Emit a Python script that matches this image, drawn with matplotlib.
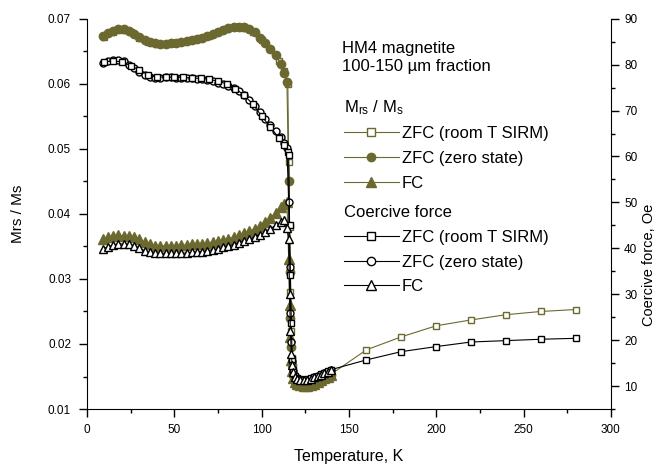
import matplotlib
matplotlib.use("Agg")
import matplotlib.pyplot as plt
from matplotlib.ticker import MultipleLocator, FormatStrFormatter
from matplotlib.lines import Line2D

plt.rcParams['font.family'] = ['Liberation Sans', 'DejaVu Sans']

# temperature grids (K)
t_low = [9, 12, 15, 18, 21, 24, 27, 30, 33, 36, 39, 42, 45, 48, 51, 54, 57, 60, 63, 66,
         69, 72, 75, 78, 81, 84, 87, 90, 93, 96, 99, 102, 105, 108, 111, 113, 114.5,
         115.5, 116, 116.5, 117, 117.5, 118, 119, 120, 122, 124, 126, 128, 130, 132, 134,
         136, 138, 140]
t_sirm = [10, 15, 20, 25, 30, 35, 40, 45, 50, 55, 60, 65, 70, 75, 80, 85, 90, 95, 100, 105,
          110, 113, 115,
          115.5, 116, 116.5, 117, 117.5, 118, 119, 120, 122, 124, 126, 128, 130, 132, 134,
          136, 138, 140,
          160, 180, 200, 220, 240, 260, 280]

# Mrs/Ms (left axis)
mrs_sirm = [0.0672, 0.0679, 0.0683, 0.0679, 0.0671, 0.0664, 0.0661, 0.0661, 0.0662, 0.0664,
            0.0667, 0.0670, 0.0674, 0.0679, 0.0684, 0.0687, 0.0686, 0.0679, 0.0667, 0.0653,
            0.0635, 0.0619, 0.0600,
            0.0480, 0.0380, 0.0280, 0.0220, 0.0178, 0.0158, 0.0146, 0.0141, 0.0138, 0.0137,
            0.0137, 0.0138, 0.0140, 0.0142, 0.0145, 0.0148, 0.0151, 0.0154,
            0.0191, 0.0211, 0.0228, 0.0237, 0.0245, 0.0250, 0.0253]
mrs_zero = [0.0674, 0.0678, 0.0681, 0.0684, 0.0684, 0.0681, 0.0677, 0.0672, 0.0667, 0.0664,
            0.0662, 0.0661, 0.0661, 0.0662, 0.0663, 0.0664, 0.0666, 0.0667, 0.0669, 0.0671,
            0.0674, 0.0677, 0.0680, 0.0683, 0.0686, 0.0687, 0.0688, 0.0687, 0.0684, 0.0679,
            0.0671, 0.0663, 0.0654, 0.0644, 0.0630, 0.0617, 0.0602,
            0.0450, 0.0310, 0.0240, 0.0195, 0.0168, 0.0152, 0.0143, 0.0139, 0.0137, 0.0136,
            0.0136, 0.0137, 0.0139, 0.0141, 0.0144, 0.0147, 0.0150, 0.0153]
mrs_fc = [0.0361, 0.0364, 0.0366, 0.0367, 0.0366, 0.0366, 0.0365, 0.0361, 0.0356, 0.0353,
          0.0351, 0.0351, 0.0351, 0.0351, 0.0351, 0.0352, 0.0352, 0.0353, 0.0353, 0.0354,
          0.0355, 0.0357, 0.0358, 0.0360, 0.0362, 0.0364, 0.0367, 0.0370, 0.0373, 0.0377,
          0.0381, 0.0387, 0.0394, 0.0402, 0.0410, 0.0415, 0.0419,
          0.0330, 0.0260, 0.0210, 0.0175, 0.0158, 0.0148, 0.0141, 0.0138, 0.0137, 0.0136,
          0.0136, 0.0137, 0.0139, 0.0141, 0.0144, 0.0147, 0.0150, 0.0153]

# coercive force, Oe (right axis)
hc_sirm = [80.6, 80.8, 80.6, 79.8, 78.8, 77.8, 77.3, 77.3, 77.3, 77.2,
           77.1, 77.0, 76.8, 76.4, 75.8, 74.8, 73.3, 71.4, 68.8, 66.4,
           64.0, 62.4, 61.0,
           60.3, 45.0, 34.2, 23.8, 16.0, 13.5, 12.3, 11.8, 11.5, 11.4,
           11.5, 11.7, 12.0, 12.3, 12.6, 12.9, 13.2, 13.6,
           15.7, 17.5, 18.6, 19.6, 19.9, 20.2, 20.4]
hc_zero = [80.3, 80.8, 81.0, 81.1, 80.7, 80.0, 79.3, 78.5, 77.8, 77.3,
           77.1, 77.1, 77.2, 77.2, 77.1, 77.0, 77.0, 77.0, 76.9, 76.8,
           76.6, 76.4, 76.1, 75.8, 75.4, 74.9, 74.2, 73.3, 72.2, 71.0,
           69.6, 68.2, 66.8, 65.5, 64.2, 63.0, 61.8,
           50.0, 36.0, 26.0, 19.5, 15.5, 13.3, 12.2, 11.7, 11.4, 11.3,
           11.4, 11.6, 11.9, 12.2, 12.5, 12.8, 13.1, 13.5]
hc_fc = [39.9, 40.3, 40.7, 41.0, 40.9, 40.9, 40.6, 40.1, 39.5, 39.1,
         38.9, 38.9, 38.9, 38.9, 38.9, 38.9, 39.0, 39.1, 39.2, 39.3,
         39.5, 39.7, 39.9, 40.2, 40.5, 40.8, 41.2, 41.6, 42.0, 42.5,
         43.0, 43.6, 44.3, 45.0, 45.8, 46.2, 44.5,
         42.0, 30.0, 22.0, 17.0, 14.5, 13.0, 12.0, 11.6, 11.4, 11.3,
         11.4, 11.6, 11.9, 12.2, 12.5, 12.8, 13.1, 13.5]

olive = '#6b692f'
black = '#000000'

fig, ax = plt.subplots(figsize=(6.59, 4.68), dpi=100)
fig.subplots_adjust(left=0.132, right=0.927, top=0.960, bottom=0.126)

ax.plot(t_sirm, mrs_sirm, color=olive, lw=0.8, marker='s', ms=5, mfc='white', mec=olive, mew=1)
ax.plot(t_low, mrs_zero, color=olive, lw=0.8, marker='o', ms=6, mfc=olive, mec=olive)
ax.plot(t_low, mrs_fc, color=olive, lw=0.8, marker='^', ms=6.5, mfc=olive, mec=olive)

ax2 = ax.twinx()
ax2.plot(t_low, hc_zero, color=black, lw=0.8, marker='o', ms=5, mfc='white', mec=black, mew=1)
ax2.plot(t_sirm, hc_sirm, color=black, lw=0.8, marker='s', ms=5, mfc='white', mec=black, mew=1)
ax2.plot(t_low, hc_fc, color=black, lw=0.8, marker='^', ms=5.5, mfc='white', mec=black, mew=1)

ax.set_xlim(0, 300)
ax.set_ylim(0.01, 0.07)
ax2.set_ylim(5, 90)
ax.xaxis.set_major_locator(MultipleLocator(50))
ax.xaxis.set_minor_locator(MultipleLocator(25))
ax.yaxis.set_major_locator(MultipleLocator(0.01))
ax.yaxis.set_minor_locator(MultipleLocator(0.005))
ax.yaxis.set_major_formatter(FormatStrFormatter('%.2f'))
ax2.yaxis.set_major_locator(MultipleLocator(10))
ax2.yaxis.set_minor_locator(MultipleLocator(5))

for a in (ax, ax2):
    a.spines['top'].set_visible(False)
    a.tick_params(which='major', direction='out', length=5.5, width=1, labelsize=8.5)
    a.tick_params(which='minor', direction='out', length=3, width=1)
ax.tick_params(axis='y', pad=6)
ax.tick_params(axis='x', pad=5)
ax2.tick_params(axis='y', pad=4)
ax.spines['right'].set_visible(False)
ax2.spines['left'].set_visible(False)
ax2.spines['bottom'].set_visible(False)

ax.set_xlabel('Temperature, K', fontsize=11.5)
ax.xaxis.set_label_coords(0.5, -0.103)
ax.set_ylabel('Mrs / Ms', fontsize=11)
ax.yaxis.set_label_coords(-0.118, 0.5)
ax2.set_ylabel('Coercive force, Oe', fontsize=10.5)
ax2.yaxis.set_label_coords(1.06, 0.37)

ax.text(0.487, 0.942, 'HM4 magnetite\n100-150 \u00b5m fraction', transform=ax.transAxes,
        fontsize=12, va='top', ha='left', linespacing=1.25)

h1 = [Line2D([], [], color=olive, lw=0.8, marker='s', ms=6, mfc='white', mec=olive),
      Line2D([], [], color=olive, lw=0.8, marker='o', ms=6, mfc=olive, mec=olive),
      Line2D([], [], color=olive, lw=0.8, marker='^', ms=6.5, mfc=olive, mec=olive)]
h2 = [Line2D([], [], color=black, lw=0.8, marker='s', ms=6, mfc='white', mec=black),
      Line2D([], [], color=black, lw=0.8, marker='o', ms=6, mfc='white', mec=black),
      Line2D([], [], color=black, lw=0.8, marker='^', ms=6.5, mfc='white', mec=black)]
labels = ['ZFC (room T SIRM)', 'ZFC (zero state)', 'FC']

leg_kw = dict(loc='upper left', frameon=False, fontsize=12, title_fontsize=12,
              alignment='left', handlelength=3.3, handletextpad=0.2, labelspacing=0.58,
              borderpad=0, borderaxespad=0)
leg1 = ax2.legend(h1, labels, title='$\\mathregular{M_{rs}}$ / $\\mathregular{M_s}$',
                  bbox_to_anchor=(0.49, 0.797), **leg_kw)
ax2.add_artist(leg1)
leg2 = ax2.legend(h2, labels, title='Coercive force',
                  bbox_to_anchor=(0.49, 0.522), **leg_kw)

fig.savefig('out.png', dpi=100)
